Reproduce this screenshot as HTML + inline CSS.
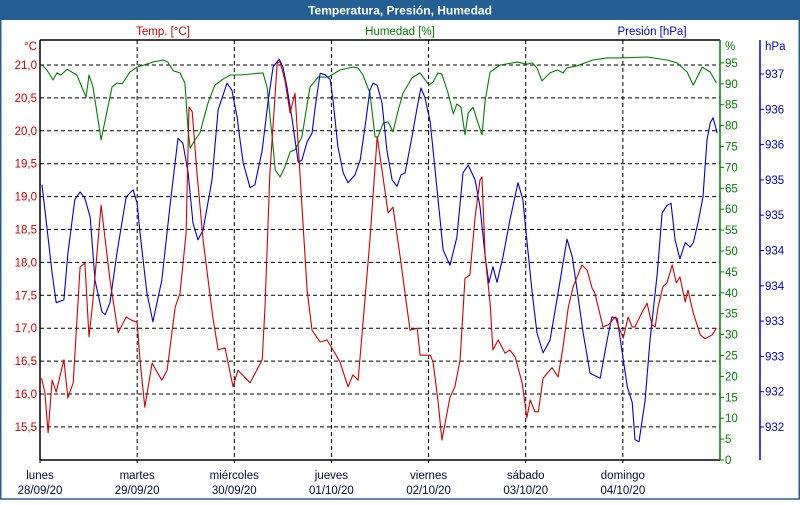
<!DOCTYPE html>
<html><head><meta charset="utf-8"><style>
html,body{margin:0;padding:0;background:#fff}
body{width:800px;height:500px;overflow:hidden;font-family:"Liberation Sans",sans-serif}
svg text{font-family:"Liberation Sans",sans-serif;font-size:11.5px}
</style></head><body>
<svg id="chart" width="800" height="500" xmlns="http://www.w3.org/2000/svg">
<rect x="0" y="0" width="800" height="500" fill="#fff"/>
<rect x="0" y="0" width="800" height="20" fill="#245f94"/>
<text x="400" y="14.5" text-anchor="middle" fill="#fff" font-weight="bold" style="font-size:12px">Temperatura, Presión, Humedad</text>
<rect x="0.75" y="19" width="798.5" height="480" fill="none" stroke="#245f94" stroke-width="1.5"/>
<g id="grid"></g>
<g id="axes"></g>
<g id="series"></g>
</svg>
<script>
const tempH=[0.4,1.2,2.0,3.0,4.0,5.9,6.9,8.2,9.9,11.1,12.1,13.1,15.1,17.3,19.3,21.3,22.7,24.0,24.7,25.9,27.7,30.1,31.4,33.4,34.6,36.1,36.8,37.6,38.8,40.3,42.7,44.0,45.7,47.7,48.9,51.9,54.9,55.6,56.8,58.6,59.3,60.5,61.8,63.0,64.2,66.0,67.2,69.2,70.9,72.4,74.1,76.1,77.3,78.6,79.8,81.5,83.3,84.5,86.0,87.2,89.0,91.4,93.2,93.9,96.4,97.1,98.3,99.3,101.3,102.5,103.8,105.0,106.2,107.5,108.7,109.2,110.0,111.2,111.9,113.2,114.9,116.1,117.4,119.1,120.3,121.1,122.3,123.1,124.3,126.5,128.0,129.2,130.5,131.7,133.9,135.2,136.4,137.1,139.1,140.4,142.1,143.3,144.1,145.3,146.3,147.0,148.8,150.0,151.2,152.0,152.7,153.9,154.9,156.2,157.2,158.1,159.4,160.1,161.4,163.1,164.3,166.1,167.1];
const tempV=[16.24,16.02,15.41,16.21,16.03,16.52,15.94,16.17,17.93,17.99,16.87,17.43,18.87,17.73,16.93,17.17,17.12,17.09,16.52,15.80,16.47,16.21,16.36,17.32,17.53,18.45,20.36,20.29,19.36,18.34,17.17,16.67,16.70,16.11,16.36,16.17,16.52,17.32,19.36,21.03,21.05,20.77,20.27,20.57,19.36,17.58,16.97,16.79,16.82,16.67,16.49,16.11,16.29,16.21,17.08,18.34,19.91,19.40,18.75,18.84,18.08,16.97,17.00,16.59,16.59,16.49,15.91,15.30,15.95,16.11,16.52,17.76,17.81,18.69,19.25,19.30,18.08,17.38,16.67,16.82,16.62,16.67,16.56,16.17,15.64,15.91,15.73,15.73,16.24,16.40,16.26,16.71,17.31,17.63,17.96,17.88,17.61,17.53,17.02,17.05,17.17,16.97,16.85,17.17,17.02,17.02,17.25,17.38,17.05,17.02,17.32,17.63,17.69,17.96,17.69,17.78,17.40,17.58,17.23,16.90,16.84,16.90,17.00];
const humH=[0.5,1.7,3.2,4.2,5.2,6.7,8.2,9.1,11.4,12.1,13.1,15.1,17.8,19.0,20.3,22.2,24.0,27.9,30.4,31.6,32.9,34.6,35.8,36.6,37.1,38.3,39.5,41.5,43.2,45.2,47.0,49.4,55.1,56.1,57.6,58.1,59.3,60.5,61.8,63.0,64.7,66.7,68.7,71.2,74.1,77.3,78.6,79.8,81.5,82.8,83.5,84.8,86.0,87.2,88.5,89.7,91.9,93.9,96.1,97.1,98.3,99.3,100.8,102.1,103.0,104.0,105.0,105.8,107.0,108.0,109.2,110.0,111.2,113.7,117.9,120.3,121.6,122.8,124.0,126.0,127.8,129.2,130.2,132.7,136.6,140.1,143.3,150.0,154.9,157.4,159.9,161.4,163.6,165.6,167.1];
const humV=[94.5,93.3,90.9,92.6,92.1,93.5,92.6,92.1,86.8,92.1,89.2,76.6,89.2,90.2,90.0,92.8,94.0,95.2,95.7,95.2,93.1,92.6,90.2,78.9,74.6,76.6,78.2,85.4,89.7,91.1,92.1,92.1,92.6,89.2,74.9,69.4,67.7,70.1,73.7,74.2,77.3,89.2,91.6,91.6,93.3,94.0,93.8,92.1,87.8,77.3,77.3,80.6,80.9,78.5,83.7,87.8,91.4,92.6,89.7,90.4,92.6,92.3,87.8,82.8,85.2,84.4,77.8,83.0,84.4,81.3,77.8,86.1,92.8,94.5,95.2,94.7,95.0,93.8,90.7,92.6,93.3,92.6,93.8,94.3,95.7,96.2,96.2,96.4,95.7,95.0,92.8,89.7,94.0,92.8,90.2];
const presH=[0.5,1.7,3.0,4.0,5.9,6.9,8.6,9.9,11.1,12.4,13.6,15.3,16.1,17.3,19.0,21.3,23.0,24.0,24.7,26.4,27.9,30.1,32.1,34.1,35.3,36.6,37.8,39.0,40.3,42.5,44.0,46.2,47.4,48.7,49.4,50.2,51.9,53.1,54.9,56.3,57.6,59.1,60.0,61.0,62.3,63.8,64.7,66.0,67.2,68.0,69.2,70.4,71.7,72.4,73.6,74.9,76.1,77.8,79.1,80.3,81.5,82.3,83.3,84.5,85.7,87.0,88.2,89.2,90.2,91.9,93.2,94.1,95.1,96.4,98.1,99.6,101.3,103.0,104.5,105.8,107.5,108.7,110.0,110.9,111.9,112.9,114.4,116.1,118.1,119.3,120.1,121.6,122.8,124.3,126.0,128.0,130.2,131.5,132.7,134.2,135.9,138.4,140.1,141.3,142.6,144.1,145.1,146.3,147.0,148.0,149.5,150.7,152.5,153.7,154.9,155.9,156.9,158.1,159.4,160.6,161.4,162.6,163.8,164.8,165.6,166.3,167.3];
const presV=[935.43,934.83,934.18,933.76,933.80,934.46,935.22,935.33,935.24,934.97,934.08,933.63,933.59,933.76,934.46,935.26,935.36,935.17,934.75,933.90,933.49,934.08,935.12,936.09,936.02,935.60,934.89,934.65,934.79,935.50,936.49,936.87,936.77,936.39,936.07,935.74,935.39,935.43,935.92,936.59,937.10,937.21,937.10,936.82,936.35,935.75,935.78,936.04,936.16,936.53,937.01,936.99,936.92,936.63,935.97,935.60,935.46,935.57,935.78,936.25,936.77,936.87,936.84,936.59,935.92,935.50,935.41,935.57,935.60,936.11,936.53,936.80,936.67,936.32,935.36,934.51,934.29,934.69,935.60,935.71,935.50,935.12,934.41,934.04,934.27,934.05,934.41,934.93,935.46,935.22,934.75,933.90,933.33,933.05,933.23,933.90,934.66,934.41,933.94,933.33,932.76,932.69,933.23,933.56,933.54,932.95,932.57,932.35,931.82,931.79,932.38,933.23,934.18,935.03,935.14,935.17,934.65,934.38,934.61,934.55,934.61,934.90,935.26,936.07,936.31,936.38,936.16];
const dayNames=["lunes","martes","miércoles","jueves","viernes","sábado","domingo"];
const dayDates=["28/09/20","29/09/20","30/09/20","01/10/20","02/10/20","03/10/20","04/10/20"];
const tempTicks=[21.0,20.5,20.0,19.5,19.0,18.5,18.0,17.5,17.0,16.5,16.0,15.5];
const humTicks=[0,5,10,15,20,25,30,35,40,45,50,55,60,65,70,75,80,85,90,95];
const presTicks=[937,936.5,936,935.5,935,934.5,934,933.5,933,932.5,932];
const presLabels=["937","936","936","935","935","934","934","933","933","932","932"];

const L=40,R=720,T=40,B=460;
const xH=h=>L+h*(R-L)/168;
const yT=v=>65+(21-v)*65.8;
const yHum=v=>460-v*4.18;
const yP=v=>74+(937-v)*70.6;
const NS="http://www.w3.org/2000/svg";
function mk(tag,attrs,parent,txt){const e=document.createElementNS(NS,tag);for(const k in attrs)e.setAttribute(k,attrs[k]);if(txt!==undefined)e.textContent=txt;parent.appendChild(e);return e;}
const grid=document.getElementById('grid'),axes=document.getElementById('axes'),series=document.getElementById('series');

tempTicks.forEach((v,i)=>{const y=yT(v);
 const g=mk('line',{x1:L,x2:R,y1:y,y2:y,stroke:'#000','stroke-dasharray':'4,3','stroke-width':1},grid);
 
 
 const t=mk('text',{x:37,y:y+4,'text-anchor':'end',fill:'#d00000'},axes,v.toFixed(1).replace('.',','));
 
 
});
dayNames.forEach((d,i)=>{const x=xH(i*24);
 if(i>0){const g=mk('line',{x1:x,x2:x,y1:T,y2:B,stroke:'#000','stroke-dasharray':'4,3','stroke-width':1},grid);
 
 }
 const tk=mk('line',{x1:x,x2:x,y1:B,y2:B+3,stroke:'#000'},axes);
 
 
 const t1=mk('text',{x:x,y:479,'text-anchor':'middle',fill:'#000a40'},axes,d);
 
 
 const t2=mk('text',{x:x,y:494,'text-anchor':'middle',fill:'#000a40'},axes,dayDates[i]);
 
 
});
humTicks.forEach(v=>{const y=yHum(v);
 const tk=mk('line',{x1:R,x2:R+4,y1:y,y2:y,stroke:'#008000'},axes);
 
 
 const t=mk('text',{x:725,y:y+4,fill:'#008000'},axes,String(v));
 
 
});
presTicks.forEach((v,i)=>{const y=yP(v);
 const tk=mk('line',{x1:760,x2:764,y1:y,y2:y,stroke:'#0000d0'},axes);
 
 
 const t=mk('text',{x:765,y:y+4,fill:'#0000d0'},axes,presLabels[i]);
 
 
});
function axLine(x1,y1,x2,y2,c,name){const l=mk('line',{x1,y1,x2,y2,stroke:c,'stroke-width':1.5},axes);
 
 }
axLine(L,T,R,T,'#000','plot-top-border');
axLine(L,T,L,B,'#000','temp-axis-line');
axLine(L,B,R,B,'#000','x-axis-line');
axLine(R,T,R,B,'#008000','hum-axis-line');
axLine(760,T,760,B,'#0000d0','pres-axis-line');
function lbl(x,y,txt,c,anchor,name){const t=mk('text',{x,y,fill:c,'text-anchor':anchor},axes,txt);
 
 }
lbl(37,50,'°C','#d00000','end','temp-unit');
lbl(163,35,'Temp. [°C]','#d00000','middle','temp-axis-title');
lbl(400,35,'Humedad [%]','#008000','middle','hum-axis-title');
lbl(652,35,'Presión [hPa]','#0000d0','middle','pres-axis-title');
lbl(725,50,'%','#008000','start','hum-unit');
lbl(765,50,'hPa','#0000d0','start','pres-unit');

function path(hs,vs,yf,c,name){const d=hs.map((h,i)=>(i?'L':'M')+xH(h).toFixed(1)+','+yf(vs[i]).toFixed(1)).join('');
 const p=mk('path',{d,fill:'none',stroke:c,'stroke-width':1.1,'stroke-linejoin':'round'},series);
 
 }
path(humH,humV,yHum,'#008000','humidity-line');
path(presH,presV,yP,'#0000d0','pressure-line');
path(tempH,tempV,yT,'#d00000','temperature-line');
</script>
</body></html>
